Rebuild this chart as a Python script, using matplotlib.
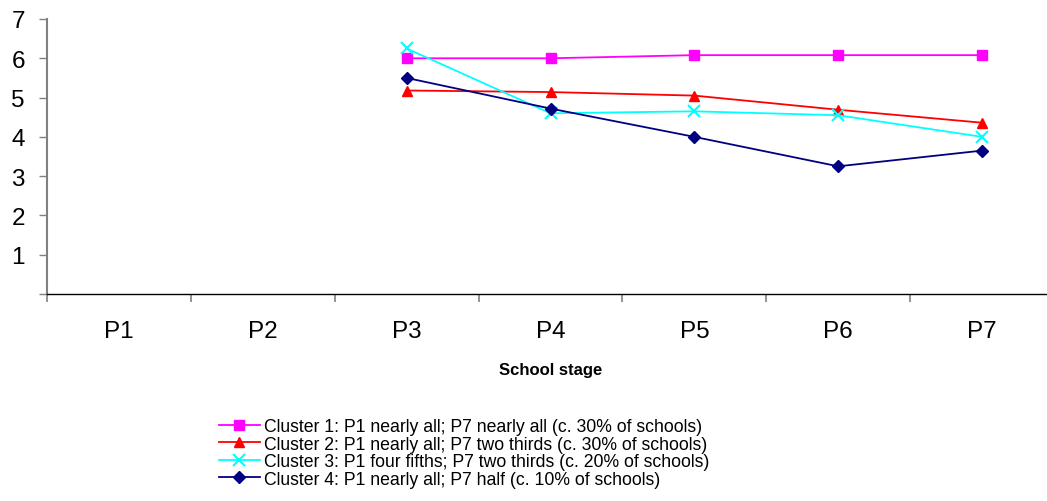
import numpy as np
import matplotlib
matplotlib.use("Agg")
import matplotlib.pyplot as plt

plt.rcParams['font.family'] = ['Liberation Sans', 'DejaVu Sans']

stages = ['P1', 'P2', 'P3', 'P4', 'P5', 'P6', 'P7']
shown = ['P3', 'P4', 'P5', 'P6', 'P7']

cluster1 = [6.0, 6.0, 6.08, 6.08, 6.08]
cluster2 = [5.18, 5.14, 5.05, 4.69, 4.36]
cluster3 = [6.25, 4.6, 4.65, 4.55, 4.0]
cluster4 = [5.5, 4.72, 4.0, 3.25, 3.65]

labels = [
    'Cluster 1: P1 nearly all; P7 nearly all (c. 30% of schools)',
    'Cluster 2: P1 nearly all; P7 two thirds (c. 30% of schools)',
    'Cluster 3: P1 four fifths; P7 two thirds (c. 20% of schools)',
    'Cluster 4: P1 nearly all; P7 half (c. 10% of schools)',
]

fig = plt.figure(figsize=(10.47, 5.02), dpi=100)
ax = fig.add_axes([47 / 1047, 207 / 502, 1007 / 1047, 275 / 502])

x = np.array([stages.index(s) for s in shown])
series = [cluster1, cluster2, cluster3, cluster4]
colors = ['#ff00ff', '#ff0000', '#00ffff', '#000080']
markers = ['s', '^', 'x', 'D']
sizes = [6.5, 7.5, 8, 6]
for vals, c, m, ms, lab in zip(series, colors, markers, sizes, labels):
    mew = 1.5 if m == 'x' else 1
    ax.plot(x, vals, color=c, marker=m, markersize=ms, markeredgewidth=mew,
            linewidth=1.3, label=lab, clip_on=False)

ax.set_xlim(-0.5, len(stages) - 0.5)
ax.set_ylim(0, 7)
ax.set_yticks(range(0, 8))
ax.set_yticklabels([''] + [str(i) for i in range(1, 8)])
ax.set_xticks(range(len(stages)))
ax.set_xticklabels(stages)
ax.set_xticks(np.arange(-0.5, len(stages)), minor=True)

ax.tick_params(axis='x', which='major', length=0, pad=19, labelsize=17.5)
ax.tick_params(axis='x', which='minor', length=6, width=1.2, color='#808080', direction='out')
ax.tick_params(axis='y', length=6, width=1, color='#808080', pad=10, labelsize=17.5)

for s in ['top', 'right']:
    ax.spines[s].set_visible(False)
ax.spines['left'].set_color('#808080')
ax.spines['left'].set_linewidth(1.5)
ax.spines['bottom'].set_color('black')
ax.spines['bottom'].set_linewidth(1)

ax.set_xlabel('School stage', fontsize=12, fontweight='bold', labelpad=14)

leg = fig.legend(loc='upper left', bbox_to_anchor=(219 / 1047, 1 - 419 / 502),
                 frameon=False, fontsize=12.7, labelspacing=0.03,
                 handlelength=2.3, handletextpad=0.25, borderpad=0, borderaxespad=0)

fig.savefig('out.png', dpi=100)
